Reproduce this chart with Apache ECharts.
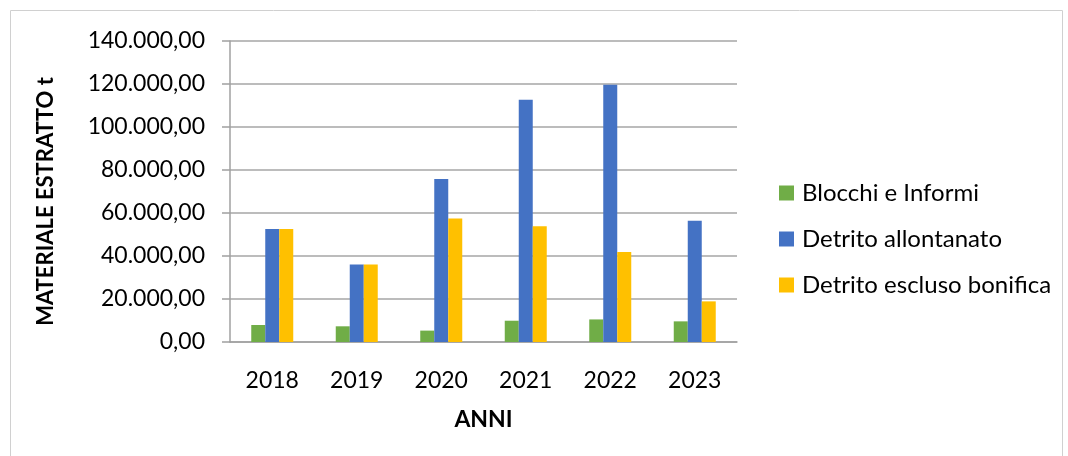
<!DOCTYPE html>
<html><head><meta charset="utf-8">
<script src="https://cdn.jsdelivr.net/npm/echarts@6/dist/echarts.min.js"></script>
<style>html,body{margin:0;padding:0;background:#fff}#c{width:1068px;height:456px}</style>
</head><body><div id="c"></div>
<script>
const categories = ['2018','2019','2020','2021','2022','2023'];
const blocchi = [7900, 7300, 5300, 9900, 10500, 9600];
const detritoAllontanato = [52600, 36100, 75800, 112700, 119700, 56400];
const detritoEscluso = [52600, 36100, 57500, 53800, 41900, 18900];
const seriesNames = ['Blocchi e Informi','Detrito allontanato','Detrito escluso bonifica'];
const FONT = 'Lato';
function fmt(v){
  const s = Math.round(v).toString().replace(/\B(?=(\d{3})+(?!\d))/g,'.');
  return s + ',00';
}
const chart = echarts.init(document.getElementById('c'));
chart.setOption({
  animation:false,
  graphic:[{type:'rect',shape:{x:10.5,y:10.5,width:1052,height:460},style:{fill:'none',stroke:'#d0d0d0',lineWidth:1},silent:true}],
  grid:{left:230,right:331,top:41,bottom:114,containLabel:false},
  legend:{
    orient:'vertical',left:774,top:176,itemWidth:15,itemHeight:15,itemGap:22,itemStyle:{borderWidth:0},
    icon:'rect',
    textStyle:{fontFamily:FONT,fontSize:24,color:'#000',padding:[0,0,0,3]},
    data:seriesNames
  },
  xAxis:{
    type:'category',data:categories,
    name:'ANNI',nameLocation:'middle',nameGap:66,
    nameTextStyle:{fontFamily:FONT,fontSize:23,fontWeight:'bold',color:'#000'},
    axisLine:{lineStyle:{color:'#a0a0a0',width:1.5}},
    axisTick:{show:false},
    axisLabel:{fontFamily:FONT,fontSize:23,color:'#000',margin:27}
  },
  yAxis:{
    type:'value',min:0,max:140000,interval:20000,
    name:'MATERIALE ESTRATTO t',nameLocation:'middle',nameGap:173,nameRotate:90,
    nameTextStyle:{fontFamily:FONT,fontSize:22,fontWeight:'bold',color:'#000',padding:[0,20,0,0]},
    axisLine:{show:true,lineStyle:{color:'#a0a0a0',width:1.5}},
    axisTick:{show:true,length:8,lineStyle:{color:'#a0a0a0',width:1.5}},
    splitLine:{lineStyle:{color:'#a6a6a6',width:1.5}},
    axisLabel:{fontFamily:FONT,fontSize:23,color:'#000',margin:25,formatter:fmt}
  },
  series:[
    {name:seriesNames[0],type:'bar',data:blocchi,barWidth:14,barGap:'0%',itemStyle:{color:'#70AD47'}},
    {name:seriesNames[1],type:'bar',data:detritoAllontanato,barWidth:14,barGap:'0%',itemStyle:{color:'#4472C4'}},
    {name:seriesNames[2],type:'bar',data:detritoEscluso,barWidth:14,barGap:'0%',itemStyle:{color:'#FFC000'}}
  ]
});
</script></body></html>
